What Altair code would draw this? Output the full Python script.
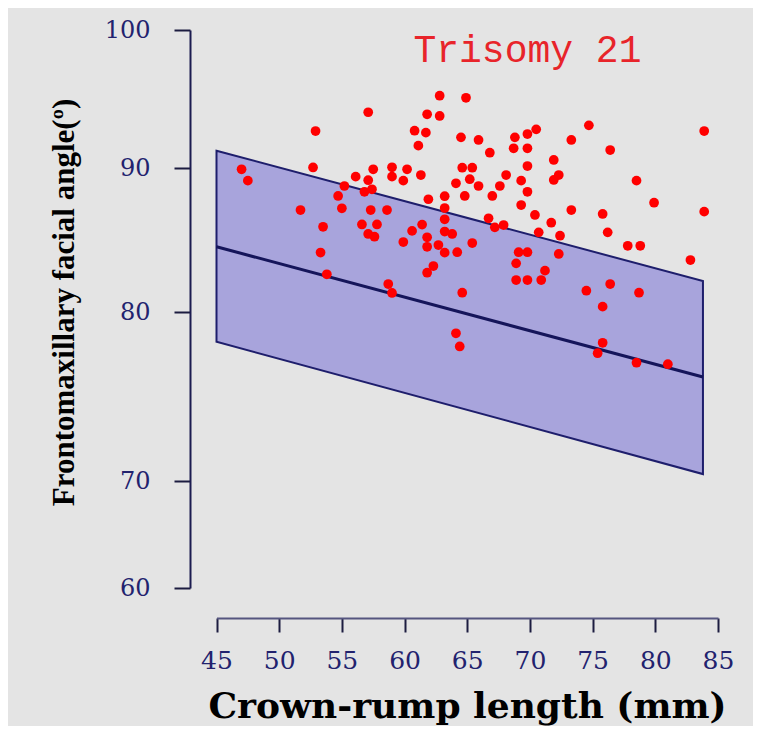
import altair as alt
import pandas as pd

# --- data ---
crl = [47.0, 47.5, 52.7, 51.7, 53.5, 53.3, 53.8, 55.2, 54.7, 55.0,
       56.1, 57.1, 57.5, 56.8, 57.4, 57.3, 58.6, 56.6, 57.8, 57.1,
       57.6, 59.9, 59.0, 59.0, 60.2, 59.9, 61.3, 61.1, 58.7, 59.0,
       61.9, 63.2, 63.2, 63.2, 61.4, 60.6, 63.2, 61.8, 61.8, 62.7,
       63.2, 62.3, 61.8, 62.8, 64.9, 57.1, 61.8, 62.8, 52.9, 60.8,
       61.7, 64.5, 65.9, 64.6, 65.4, 65.2, 64.1, 65.9, 64.8, 63.8,
       65.4, 64.2, 64.6, 64.1, 64.4, 74.7, 83.9, 68.8, 69.8, 70.5,
       68.7, 69.8, 66.8, 73.3, 76.4, 71.9, 69.8, 68.1, 72.3, 71.9,
       69.3, 78.5, 67.6, 69.8, 67.0, 79.9, 69.3, 73.3, 75.8, 83.9,
       66.7, 70.4, 67.9, 67.2, 71.7, 70.7, 72.4, 76.2, 77.8, 78.8,
       82.8, 69.1, 69.8, 72.3, 68.9, 71.2, 68.9, 69.8, 70.9, 76.4,
       74.5, 78.7, 75.8, 75.8, 75.4, 78.5, 81.0]
angle = [89.91, 89.12, 90.04, 87.08, 85.92, 84.13, 82.62, 88.75, 88.06, 87.20,
         89.40, 89.15, 89.91, 88.35, 88.52, 87.08, 87.08, 86.08, 86.08, 85.42,
         85.23, 84.86, 90.05, 89.40, 89.91, 89.12, 89.51, 91.62, 81.94, 81.32,
         87.83, 88.04, 87.22, 86.44, 86.07, 85.63, 85.59, 85.19, 84.53, 84.65,
         84.12, 83.19, 82.73, 95.24, 95.09, 94.04, 93.89, 93.77, 92.68, 92.70,
         92.56, 92.22, 92.03, 90.02, 90.02, 89.22, 88.94, 88.75, 88.06, 85.42,
         84.79, 84.15, 81.34, 78.74, 77.96, 93.09, 92.68, 92.22, 92.46, 92.80,
         91.43, 91.43, 91.11, 92.03, 91.30, 90.58, 90.14, 89.51, 89.51, 89.17,
         89.12, 89.12, 88.75, 88.35, 88.06, 87.59, 87.43, 87.08, 86.81, 86.97,
         86.51, 86.74, 86.04, 85.88, 86.20, 85.53, 85.30, 85.53, 84.60, 84.60,
         83.61, 84.15, 84.15, 84.03, 83.38, 82.87, 82.22, 82.22, 82.22, 81.94,
         81.48, 81.34, 80.37, 78.18, 77.56, 77.00, 76.91]

band_crl = [45.0, 83.8]
band_upper = [91.25, 82.15]
band_lower = [78.24, 70.41]
band_mean = [84.53, 76.15]

x_ticks = [45, 50, 55, 60, 65, 70, 75, 80, 85]
y_ticks = [60, 70, 80, 90, 100]

label_text = ["Trisomy 21"]
label_crl = [69.8]
label_angle = [97.7]

pts = pd.DataFrame({"crl": crl, "angle": angle})
band = pd.DataFrame({"crl": band_crl, "upper": band_upper,
                     "lower": band_lower, "mean": band_mean})
lab = pd.DataFrame({"crl": label_crl, "angle": label_angle, "t": label_text})

xs = alt.Scale(domain=[45, 85], range=[26.5, 528], nice=False, zero=False)
ys = alt.Scale(domain=y_ticks, range=[568, 461, 292, 148, 10], nice=False, zero=False)

x_axis = alt.Axis(
    values=x_ticks, grid=False, title="Crown-rump length (mm)",
    domainColor="#55557f", domainWidth=2, tickColor="#1c1c40", tickWidth=2,
    tickSize=14, labelFont="DejaVu Serif", labelFontSize=25,
    labelColor="#22226e", labelPadding=16, labelFlush=False,
    titleFont="DejaVu Serif", titleFontWeight="bold", titleFontSize=36,
    titleColor="#000000", titleX=277, titleY=99, titleBaseline="alphabetic",
    titleAlign="center",
)
y_axis = alt.Axis(
    values=y_ticks, grid=False, title="Frontomaxillary facial angle(º)",
    domainColor="#1c1c50", domainWidth=2, tickColor="#1c1c40", tickWidth=2,
    tickSize=16, labelFont="DejaVu Serif", labelFontSize=24,
    labelColor="#22226e", labelPadding=24, labelFlush=False,
    titleFont="Liberation Serif", titleFontWeight="bold", titleFontSize=31,
    titleColor="#000000", titleAngle=270, titleX=-126, titleY=282,
    titleAlign="center", titleBaseline="middle",
)

band_layer = alt.Chart(band).mark_area(
    fill="#a8a4dc", stroke="#1e1e6c", strokeWidth=2, opacity=1
).encode(
    x=alt.X("crl:Q", scale=xs, axis=x_axis),
    y=alt.Y("upper:Q", scale=ys, axis=y_axis),
    y2="lower:Q",
)

mean_layer = alt.Chart(band).mark_line(color="#15155a", strokeWidth=3).encode(
    x=alt.X("crl:Q", scale=xs, axis=x_axis),
    y=alt.Y("mean:Q", scale=ys, axis=y_axis),
)

pt_layer = alt.Chart(pts).mark_circle(size=95, color="#ff0000", opacity=1).encode(
    x=alt.X("crl:Q", scale=xs, axis=x_axis),
    y=alt.Y("angle:Q", scale=ys, axis=y_axis),
)

text_layer = alt.Chart(lab).mark_text(
    font="Liberation Mono", fontSize=38, color="#e8242a",
    align="center", baseline="alphabetic"
).encode(
    x=alt.X("crl:Q", scale=xs, axis=x_axis),
    y=alt.Y("angle:Q", scale=ys, axis=y_axis),
    text="t:N",
)

chart = alt.layer(band_layer, mean_layer, pt_layer, text_layer).properties(
    width=550, height=598,
    padding={"left": 182, "top": 12, "right": 13, "bottom": 108},
    autosize=alt.AutoSizeParams(type="none"),
    background="#e4e4e4",
).configure_view(stroke=None)

chart.save("out.html", embed_options={"renderer": "svg", "actions": False})
